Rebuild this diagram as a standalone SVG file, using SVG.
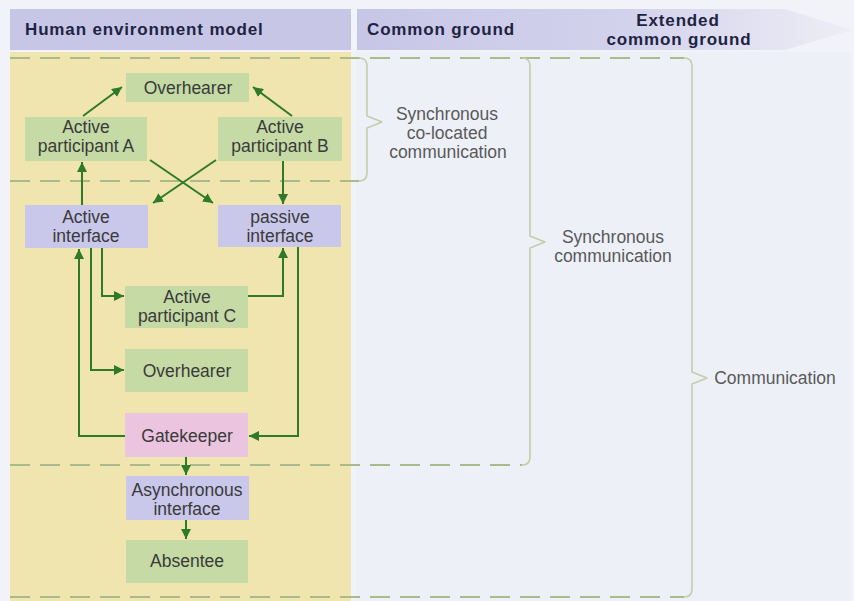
<svg xmlns="http://www.w3.org/2000/svg" width="854" height="601" viewBox="0 0 854 601">
<defs>
<linearGradient id="hdr" x1="0" y1="0" x2="1" y2="0">
<stop offset="0" stop-color="#c8c6e7"/>
<stop offset="0.55" stop-color="#d3d2ec"/>
<stop offset="1" stop-color="#eeeef6"/>
</linearGradient>
<marker id="ah" viewBox="0 0 10 10" refX="10" refY="5" markerWidth="10" markerHeight="10" markerUnits="userSpaceOnUse" orient="auto">
<path d="M0,0 L10,5 L0,10 z" fill="#2f7a2a"/>
</marker>
<style>
.hd{font-family:"Liberation Sans",Arial,sans-serif;font-weight:bold;font-size:17px;fill:#1d2442;letter-spacing:0.85px}
.nt{font-family:"Liberation Sans",Arial,sans-serif;font-size:17.5px;fill:#3a3a3a;text-anchor:middle}
.lb{font-family:"Liberation Sans",Arial,sans-serif;font-size:17.5px;fill:#595959;text-anchor:middle}
.g{fill:#c5daa5}
.p{fill:#c9c7ea}
.k{fill:#ebc4df}
.c{fill:none;stroke:#2f7a2a;stroke-width:2;marker-end:url(#ah)}
.d{fill:none;stroke:#abba8a;stroke-width:2;stroke-dasharray:20 10}
.b{fill:none;stroke:#c3ceaa;stroke-width:1.6;stroke-linejoin:round}
</style>
</defs>
<rect x="0" y="0" width="854" height="601" fill="#f2f3f8"/>
<rect x="10" y="52" width="341" height="549" fill="#f0e5ae"/>
<rect x="356" y="52" width="494" height="549" fill="#eef0f7"/>
<g id="header">
<rect x="10" y="9" width="341" height="41" fill="#c8c6e7"/>
<polygon points="357,9 785,9 852,30 785,50 357,50" fill="url(#hdr)"/>
<text class="hd" x="25" y="35">Human environment model</text>
<text class="hd" x="367" y="35">Common ground</text>
<text class="hd" x="678" y="26" text-anchor="middle">Extended</text>
<text class="hd" x="679" y="45" text-anchor="middle">common ground</text>
</g>
<g id="brackets">
<path class="d" d="M10,58 H684"/>
<path class="d" d="M10,181 H359"/>
<path class="d" d="M10,465 H522"/>
<path class="d" d="M10,597 H684"/>
<path class="b" d="M359,58 Q367,58 367,66 V116 L382,122 L367,128 V173 Q367,181 359,181"/>
<path class="b" d="M522,58 Q530,58 530,66 V236 L545,242 L530,248 V457 Q530,465 522,465"/>
<path class="b" d="M684,58 Q692,58 692,66 V372 L707,378 L692,384 V589 Q692,597 684,597"/>
<text class="lb" x="447" y="120">Synchronous</text>
<text class="lb" x="447" y="139">co-located</text>
<text class="lb" x="448" y="158">communication</text>
<text class="lb" x="613" y="243">Synchronous</text>
<text class="lb" x="613" y="262">communication</text>
<text class="lb" x="775" y="384">Communication</text>
</g>
<g id="connectors">
<path class="c" d="M83,116 L122,87"/>
<path class="c" d="M292,116 L253,87"/>
<path class="c" d="M150,160 L213,203"/>
<path class="c" d="M216,160 L153,203"/>
<path class="c" d="M82,205 V162"/>
<path class="c" d="M283,161 V204"/>
<path class="c" d="M102,248 V296 H124"/>
<path class="c" d="M91,248 V370 H124"/>
<path class="c" d="M125,436 H79 V249"/>
<path class="c" d="M248,296 H283 V248"/>
<path class="c" d="M298,247 V436 H249"/>
<path class="c" d="M186,457 V475"/>
<path class="c" d="M186,520 V539"/>
</g>
<g id="overhearer-top"><rect class="g" x="126" y="73" width="123" height="29"/><text class="nt" x="188" y="94">Overhearer</text></g>
<g id="participant-a"><rect class="g" x="25" y="117" width="122" height="44"/><text class="nt" x="86" y="133">Active</text><text class="nt" x="86" y="152">participant A</text></g>
<g id="participant-b"><rect class="g" x="218" y="117" width="124" height="44"/><text class="nt" x="280" y="133">Active</text><text class="nt" x="280" y="152">participant B</text></g>
<g id="active-interface"><rect class="p" x="25" y="205" width="123" height="43"/><text class="nt" x="86" y="223">Active</text><text class="nt" x="86" y="242">interface</text></g>
<g id="passive-interface"><rect class="p" x="218" y="205" width="123" height="42"/><text class="nt" x="280" y="223">passive</text><text class="nt" x="280" y="242">interface</text></g>
<g id="participant-c"><rect class="g" x="125" y="286" width="123" height="42"/><text class="nt" x="187" y="303">Active</text><text class="nt" x="187" y="322">participant C</text></g>
<g id="overhearer-mid"><rect class="g" x="125" y="349" width="123" height="43"/><text class="nt" x="187" y="377">Overhearer</text></g>
<g id="gatekeeper"><rect class="k" x="125" y="413" width="123" height="44"/><text class="nt" x="187" y="442">Gatekeeper</text></g>
<g id="async-interface"><rect class="p" x="126" y="476" width="123" height="44"/><text class="nt" x="187" y="496">Asynchronous</text><text class="nt" x="187" y="515">interface</text></g>
<g id="absentee"><rect class="g" x="126" y="540" width="122" height="43"/><text class="nt" x="187" y="567">Absentee</text></g>
</svg>
